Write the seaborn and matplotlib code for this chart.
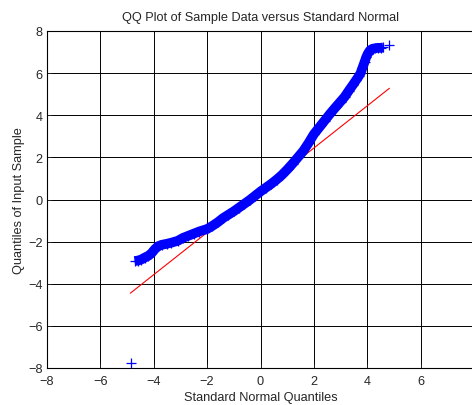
import numpy as np
import pandas as pd
import matplotlib
matplotlib.use('Agg')
import matplotlib.pyplot as plt
import seaborn as sns

sns.set_style('white')
plt.rcParams['font.family'] = ['Liberation Sans', 'DejaVu Sans']

# Sample quantiles (theoretical, sample)
norm_q = [-4.87, -4.72, -4.60, -4.47, -4.34, -4.20, -4.09, -3.96, -3.84, -3.70,
          -3.50, -3.34, -3.10, -2.90, -2.70, -2.50, -2.30, -2.00, -1.80, -1.60,
          -1.40, -1.20, -1.00, -0.80, -0.60, -0.40, -0.20, 0.00, 0.20, 0.40,
          0.60, 0.80, 1.00, 1.20, 1.40, 1.60, 1.80, 2.00, 2.20, 2.40,
          2.60, 2.80, 3.00, 3.15, 3.30, 3.45, 3.58, 3.68, 3.75, 3.82,
          3.90, 3.96, 4.02, 4.10, 4.20, 4.30, 4.40, 4.50, 4.60, 4.83]
sample_q = [-7.78, -2.92, -2.90, -2.85, -2.76, -2.67, -2.56, -2.36, -2.22, -2.15,
            -2.10, -2.05, -1.96, -1.82, -1.72, -1.62, -1.52, -1.40, -1.25, -1.08,
            -0.88, -0.72, -0.56, -0.38, -0.20, -0.02, 0.18, 0.38, 0.56, 0.74,
            0.94, 1.16, 1.42, 1.70, 2.00, 2.30, 2.68, 3.10, 3.42, 3.74,
            4.06, 4.36, 4.65, 4.87, 5.15, 5.42, 5.66, 5.85, 6.00, 6.25,
            6.53, 6.75, 6.92, 7.08, 7.16, 7.18, 7.20, 7.20, 7.22, 7.35]

# reference line ends
ref_x = [-4.88, 4.83]
ref_y = [-4.45, 5.28]

df = pd.DataFrame({'x': norm_q, 'y': sample_q})
band = df.iloc[1:-1]

fig = plt.figure(figsize=(4.72, 4.06), dpi=100)
ax = fig.add_axes([47 / 472, 37 / 406, 427 / 472, 337 / 406])

# red line sits under the points
sns.lineplot(x=ref_x, y=ref_y, ax=ax, color='#ff0000', lw=0.8, zorder=2)
sns.lineplot(x=band['x'], y=band['y'], ax=ax, color='#0000ff', lw=7,
             sort=False, estimator=None, solid_capstyle='butt', zorder=3)
sns.scatterplot(x=df['x'], y=df['y'], ax=ax, marker='+', color='#0000ff',
                s=50, linewidth=0.9, zorder=4)

ax.set_xlim(-8, 8)
ax.set_ylim(-8, 8)
ax.set_xticks(np.arange(-8, 7, 2))
ax.set_yticks(np.arange(-8, 9, 2))
ax.grid(True, color='k', lw=0.7)
ax.set_axisbelow(True)
ax.tick_params(direction='in', length=3, width=0.7, labelsize=9.2, pad=3,
               top=False, right=False, bottom=True, left=True)
ax.tick_params(axis='x', pad=5)
for sp in ax.spines.values():
    sp.set_color('k')
    sp.set_linewidth(0.8)

ax.set_title('QQ Plot of Sample Data versus Standard Normal', fontsize=9.2, pad=8)
ax.set_xlabel('Standard Normal Quantiles', fontsize=9.2, labelpad=3)
ax.set_ylabel('Quantiles of Input Sample', fontsize=9.2, labelpad=2)

fig.savefig('out.png', dpi=100)
